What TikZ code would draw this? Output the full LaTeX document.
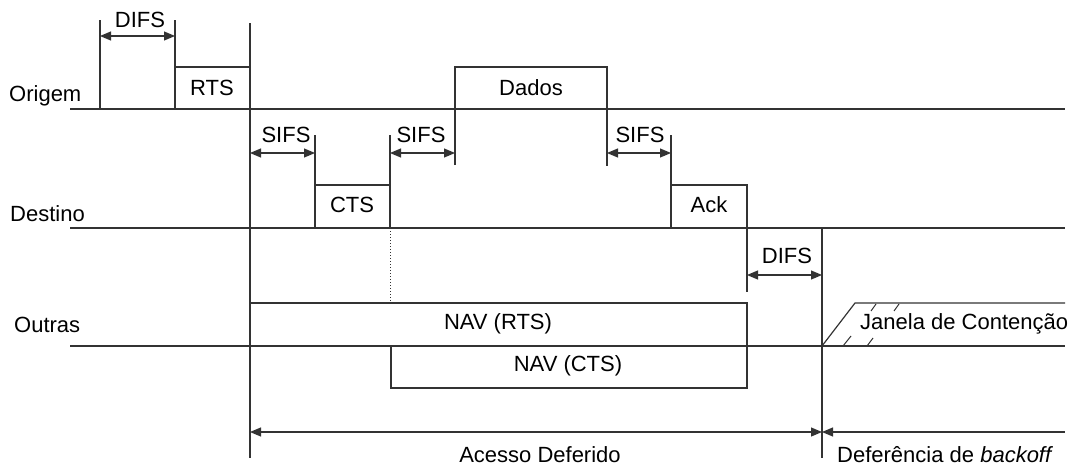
\documentclass[tikz,border=0pt]{standalone}
\usepackage{fontspec}
\setmainfont{Liberation Sans}
\usetikzlibrary{arrows.meta}
\begin{document}
\begin{tikzpicture}[x=1pt,y=-1pt,
  ln/.style={draw=black!80,line width=1.2pt},
  dim/.style={draw=black!80,line width=1.2pt,{Triangle[length=11pt,width=9pt]}-{Triangle[length=11pt,width=9pt]}},
  dimL/.style={draw=black!80,line width=1.2pt,{Triangle[length=11pt,width=9pt]}-},
  lbl/.style={inner sep=0pt,font=\fontsize{22}{26}\selectfont},
  lblL/.style={inner sep=0pt,anchor=west,font=\fontsize{22}{26}\selectfont}]
\useasboundingbox (0,0) rectangle (1080,466);
% baselines
\draw[ln] (70,109) -- (1065,109);
\draw[ln] (70,228) -- (1065,228);
\draw[ln] (70,346) -- (1065,346);
% row labels
\node[lblL] (origem) at (9,96) {Origem};
\node[lblL] (destino) at (10,214) {Destino};
\node[lblL] (outras) at (14,325) {Outras};
% DIFS at origin
\draw[ln] (100,20) -- (100,109);
\draw[ln] (175,20) -- (175,109);
\coordinate (d1a) at (100,36); \coordinate (d1b) at (175,36);
\draw[dim] (d1a) -- (d1b);
\node[lbl] (difs1) at (140,20) {DIFS};
% RTS
\draw[ln] (175,67) -- (250,67);
\node[lbl] (rts) at (212,88) {RTS};
% main verticals
\draw[ln] (250,23) -- (250,458);
\draw[ln] (822,228) -- (822,458);
% SIFS 1
\draw[ln] (315,135) -- (315,228);
\coordinate (s1a) at (250,153); \coordinate (s1b) at (315,153);
\draw[dim] (s1a) -- (s1b);
\node[lbl] (sifs1) at (286,135) {SIFS};
% CTS
\draw[ln] (315,185) -- (390,185);
\draw[ln] (390,135) -- (390,228);
\node[lbl] (cts) at (352,205) {CTS};
% SIFS 2
\coordinate (s2a) at (390,153); \coordinate (s2b) at (455,153);
\draw[dim] (s2a) -- (s2b);
\node[lbl] (sifs2) at (421,135) {SIFS};
% Dados
\draw[ln] (455,165) -- (455,67) -- (607,67) -- (607,166);
\node[lbl] (dados) at (531,88) {Dados};
% SIFS 3
\coordinate (s3a) at (607,153); \coordinate (s3b) at (671,153);
\draw[dim] (s3a) -- (s3b);
\node[lbl] (sifs3) at (640,135) {SIFS};
% Ack
\draw[ln] (671,135) -- (671,228);
\draw[ln] (671,185) -- (747,185) -- (747,292);
\node[lbl] (ack) at (709,205) {Ack};
% DIFS 2
\coordinate (d2a) at (747,275); \coordinate (d2b) at (822,275);
\draw[dim] (d2a) -- (d2b);
\node[lbl] (difs2) at (787,256) {DIFS};
% dotted
\draw[black!80,line width=1pt,dotted] (390,228) -- (390,303);
% NAV (RTS)
\draw[ln] (250,303) -- (747,303) -- (747,346);
\node[lbl] (navrts) at (498,324) {NAV (RTS)};
% NAV (CTS)
\draw[ln] (391,346) -- (391,388) -- (747,388) -- (747,346);
\node[lbl] (navcts) at (568,366) {NAV (CTS)};
% contention window
\draw[ln] (822,346) -- (855,303) -- (1065,303);
\draw[black!80,line width=1pt] (843,346) -- (851,336);
\draw[black!80,line width=1pt] (867,346) -- (873,338);
\draw[black!80,line width=1pt] (871,311) -- (876,304);
\draw[black!80,line width=1pt] (894,311) -- (899,304);
\node[lblL] (janela) at (860,324) {Janela de Contenção};
% bottom arrows
\coordinate (acA) at (250,432); \coordinate (acB) at (822,432); \coordinate (acC) at (1065,432);
\draw[dim] (acA) -- (acB);
\draw[dimL] (acB) -- (acC);
\node[lbl] (acesso) at (540,455) {Acesso Deferido};
\node[lblL] (defer) at (837,455) {Deferência de \textit{backoff}};
\end{tikzpicture}
\end{document}
